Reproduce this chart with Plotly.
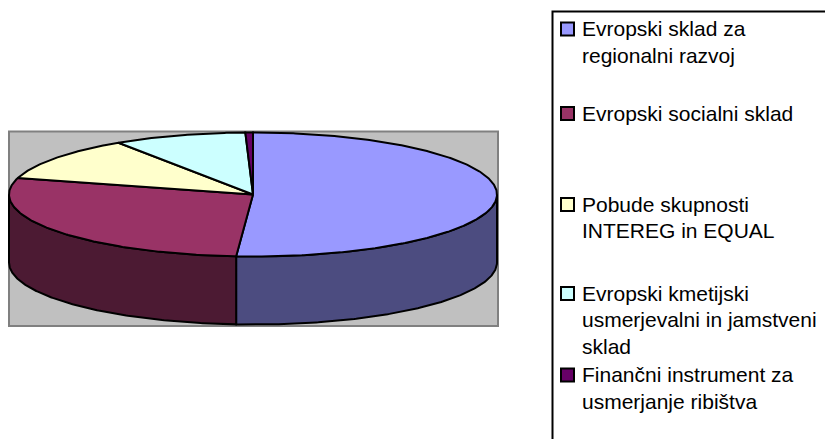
import numpy as np
import plotly.graph_objects as go

# ---- data ----
categories = [
    "Evropski sklad za regionalni razvoj",
    "Evropski socialni sklad",
    "Pobude skupnosti INTEREG in EQUAL",
    "Evropski kmetijski usmerjevalni in jamstveni sklad",
    "Finančni instrument za usmerjanje ribištva",
]
legend_lines = [
    ["Evropski sklad za", "regionalni razvoj"],
    ["Evropski socialni sklad"],
    ["Pobude skupnosti", "INTEREG in EQUAL"],
    ["Evropski kmetijski", "usmerjevalni in jamstveni", "sklad"],
    ["Finančni instrument za", "usmerjanje ribištva"],
]
values = [51.1, 28.2, 11.4, 8.8, 0.5]

# ---- styles ----
top_colors = ["#9999FF", "#993366", "#FFFFCC", "#CCFFFF", "#660066"]
side_colors = ["#4C4C80", "#4C1A33", "#808066", "#668080", "#330033"]

# ---- layout geometry (pixels) ----
W, H = 825, 439
CX, CY, RX, RY, DEPTH = 253.0, 194.5, 244.0, 62.0, 68.0
LEGEND_ROW_TOP = [22.5, 107, 198, 287, 368.5]
KEY_X0, KEY_SIZE, TEXT_X = 561, 13, 580
LINE_GAP = 26.5
FONT = "Liberation Sans, Arial, sans-serif"
FS = 21

total = float(sum(values))
bounds = np.concatenate([[0.0], np.cumsum(values) / total * 360.0])


def arc(t0, t1):
    n = max(2, int(abs(t1 - t0) * 2) + 2)
    th = np.radians(np.linspace(t0, t1, n))
    return CX + RX * np.sin(th), CY - RY * np.cos(th)


fig = go.Figure()

# side walls (front half only), drawn first
for i in range(len(values)):
    s = max(bounds[i], 90.0)
    e = min(bounds[i + 1], 270.0)
    if e <= s:
        continue
    x, y = arc(s, e)
    px = np.concatenate([x, x[::-1], x[:1]])
    py = np.concatenate([y, y[::-1] + DEPTH, y[:1]])
    fig.add_trace(go.Scatter(
        x=px, y=py, mode="lines", fill="toself", fillcolor=side_colors[i],
        line=dict(color="black", width=2), hoverinfo="skip", showlegend=False,
    ))

# top faces
for i in range(len(values)):
    x, y = arc(bounds[i], bounds[i + 1])
    px = np.concatenate([[CX], x, [CX]])
    py = np.concatenate([[CY], y, [CY]])
    fig.add_trace(go.Scatter(
        x=px, y=py, mode="lines", fill="toself", fillcolor=top_colors[i],
        line=dict(color="black", width=2), hoverinfo="text",
        text=f"{categories[i]}: {values[i]}%", showlegend=False,
    ))

shapes = [
    dict(type="rect", xref="x", yref="y", x0=9, x1=498, y0=131.5, y1=326,
         fillcolor="#C0C0C0", line=dict(color="#808080", width=2), layer="below"),
    dict(type="rect", xref="x", yref="y", x0=552.5, x1=W + 10, y0=11.5, y1=H + 10,
         fillcolor="rgba(0,0,0,0)", line=dict(color="black", width=2)),
]
annotations = []
for i, (lines, top) in enumerate(zip(legend_lines, LEGEND_ROW_TOP)):
    shapes.append(dict(type="rect", xref="x", yref="y",
                       x0=KEY_X0, x1=KEY_X0 + KEY_SIZE, y0=top, y1=top + KEY_SIZE,
                       fillcolor=top_colors[i], line=dict(color="black", width=2)))
    base = top + KEY_SIZE + 0.3
    for k, line in enumerate(lines):
        annotations.append(dict(xref="x", yref="y", x=TEXT_X,
                                y=base + k * LINE_GAP - 0.3465 * FS,
                                xanchor="left", yanchor="middle", align="left",
                                showarrow=False, text=line,
                                font=dict(family=FONT, size=FS, color="black")))

fig.update_layout(
    width=W, height=H, margin=dict(l=0, r=0, t=0, b=0),
    paper_bgcolor="white", plot_bgcolor="white",
    xaxis=dict(range=[0, W], visible=False, fixedrange=True),
    yaxis=dict(range=[H, 0], visible=False, fixedrange=True),
    shapes=shapes, annotations=annotations, showlegend=False,
)

fig.write_html("out.html", config={"displayModeBar": False})
